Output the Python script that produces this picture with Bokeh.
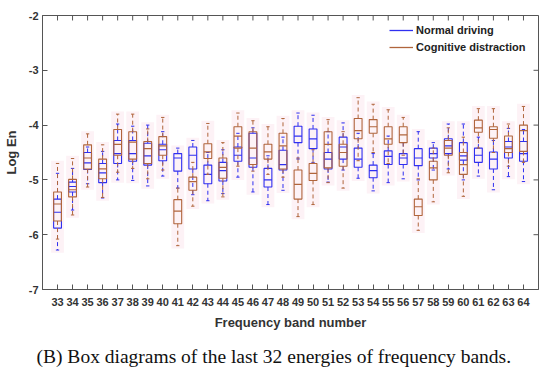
from bokeh.plotting import figure
from bokeh.models import (Range1d, FixedTicker, Legend, LegendItem,
                          Title, ColumnDataSource)
from bokeh.embed import file_html
from bokeh.resources import INLINE

# ---------------- data ----------------
bands = list(range(33, 65))
tick_labels = [str(b) for b in bands]
y_ticks = [-2, -3, -4, -5, -6, -7]
y_tick_labels = ["-2", "-3", "-4", "-5", "-6", "-7"]

# Normal driving: upper whisker, Q3, median, Q1, lower whisker
normal_top = [-4.88, -4.79, -4.40, -4.48, -3.98, -4.02, -4.00, -4.12, -4.42, -4.28, -4.50, -4.45, -4.15, -4.05, -4.56, -4.22,
              -3.78, -3.82, -4.12, -3.96, -4.15, -4.52, -4.20, -4.32, -4.12, -4.32, -3.98, -3.98, -4.22, -4.28, -4.06, -4.08]
normal_q3 = [-5.35, -5.04, -4.50, -4.70, -4.28, -4.28, -4.33, -4.35, -4.52, -4.40, -4.73, -4.68, -4.40, -4.15, -4.79, -4.46,
             -4.02, -4.07, -4.50, -4.22, -4.42, -4.73, -4.47, -4.52, -4.43, -4.42, -4.25, -4.32, -4.42, -4.49, -4.30, -4.30]
normal_med = [-5.59, -5.12, -4.69, -4.87, -4.52, -4.52, -4.56, -4.45, -4.60, -4.55, -4.90, -4.83, -4.55, -4.60, -5.00, -4.72,
              -4.20, -4.25, -4.62, -4.40, -4.62, -4.83, -4.57, -4.60, -4.60, -4.52, -4.38, -4.56, -4.55, -4.62, -4.40, -4.52]
normal_q1 = [-5.88, -5.22, -4.81, -5.05, -4.70, -4.66, -4.73, -4.65, -4.84, -4.80, -5.07, -5.02, -4.66, -4.77, -5.13, -4.82,
             -4.32, -4.43, -4.80, -4.62, -4.77, -4.96, -4.72, -4.72, -4.74, -4.60, -4.52, -4.64, -4.68, -4.80, -4.60, -4.66]
normal_bot = [-6.28, -5.55, -5.07, -5.33, -5.00, -5.01, -5.11, -4.93, -5.15, -5.27, -5.38, -5.25, -4.95, -5.22, -5.45, -5.19,
              -4.62, -4.68, -5.04, -4.82, -4.97, -5.20, -5.05, -4.98, -5.00, -4.82, -4.80, -5.00, -4.93, -5.18, -4.94, -5.03]

# Cognitive distraction
cog_top = [-4.70, -4.61, -4.16, -4.36, -3.80, -3.80, -4.07, -3.86, -5.15, -4.68, -3.97, -4.32, -3.78, -3.92, -4.03, -3.88,
           -4.60, -4.45, -3.90, -4.12, -3.50, -3.62, -3.72, -3.86, -4.98, -4.42, -4.05, -4.22, -3.70, -3.70, -3.98, -3.66]
cog_q3 = [-5.22, -4.99, -4.36, -4.62, -4.08, -4.12, -4.30, -4.21, -5.36, -4.95, -4.34, -4.60, -4.03, -4.12, -4.35, -4.15,
          -4.82, -4.70, -4.12, -4.35, -3.88, -3.90, -4.03, -4.03, -5.35, -4.66, -4.28, -4.50, -3.91, -4.03, -4.20, -4.00]
cog_med = [-5.44, -5.18, -4.60, -4.80, -4.35, -4.31, -4.43, -4.38, -5.57, -5.03, -4.49, -4.77, -4.20, -4.42, -4.49, -4.38,
           -5.08, -4.88, -4.35, -4.50, -4.10, -4.03, -4.25, -4.18, -5.49, -4.78, -4.42, -4.72, -4.05, -4.08, -4.43, -4.10]
cog_q1 = [-5.75, -5.31, -4.80, -4.98, -4.55, -4.62, -4.70, -4.55, -5.80, -5.19, -4.61, -4.97, -4.42, -4.72, -4.62, -4.80,
          -5.35, -5.01, -4.78, -4.75, -4.25, -4.15, -4.35, -4.32, -5.65, -5.00, -4.55, -4.90, -4.13, -4.24, -4.50, -4.48]
cog_bot = [-6.08, -5.64, -5.13, -5.32, -4.86, -4.79, -4.98, -4.82, -6.20, -5.48, -4.90, -5.31, -4.75, -4.84, -4.90, -4.95,
           -5.67, -5.45, -5.05, -5.15, -4.65, -4.50, -4.70, -4.55, -5.92, -5.40, -4.87, -5.30, -4.42, -4.50, -4.75, -4.68]

series_names = ["Normal driving", "Cognitive distraction"]
series_colors = ["#2f2ff0", "#b0653c"]

X_MIN, X_MAX, Y_MIN, Y_MAX = 32, 65, -7, -2

# ---------------- figure ----------------
FONT = "Liberation Sans"
p = figure(width=548, height=378, output_backend="svg", toolbar_location=None,
           x_range=Range1d(X_MIN, X_MAX), y_range=Range1d(Y_MIN, Y_MAX),
           min_border_left=39, min_border_right=10, min_border_top=15,
           min_border_bottom=88, background_fill_color="white",
           border_fill_color="white")
p.outline_line_color = "#555555"
p.outline_line_width = 1
p.xgrid.visible = False
p.ygrid.visible = False

# faint pink halo (as in the reference)
halo_lo = [min(a, b) for a, b in zip(normal_bot, cog_bot)]
halo_hi = [max(a, b) for a, b in zip(normal_top, cog_top)]
p.vbar(x=bands, width=0.85, bottom=[v - 0.05 for v in halo_lo], top=[v + 0.05 for v in halo_hi],
       fill_color="#fdf2f6", line_color=None)

box_w = 0.52
cap_w = 0.22
renderers = []
for name, col, top, q3, med, q1, bot in [
        (series_names[0], series_colors[0], normal_top, normal_q3, normal_med, normal_q1, normal_bot),
        (series_names[1], series_colors[1], cog_top, cog_q3, cog_med, cog_q1, cog_bot)]:
    src = ColumnDataSource(dict(x=bands, top=top, q3=q3, med=med, q1=q1, bot=bot,
                                xl=[b - box_w / 2 for b in bands], xr=[b + box_w / 2 for b in bands],
                                cl=[b - cap_w / 2 for b in bands], cr=[b + cap_w / 2 for b in bands]))
    p.segment(x0="x", y0="q3", x1="x", y1="top", source=src, line_color=col,
              line_dash="4 3", line_width=1)
    p.segment(x0="x", y0="q1", x1="x", y1="bot", source=src, line_color=col,
              line_dash="4 3", line_width=1)
    p.segment(x0="cl", y0="top", x1="cr", y1="top", source=src, line_color=col, line_width=1)
    p.segment(x0="cl", y0="bot", x1="cr", y1="bot", source=src, line_color=col, line_width=1)
    p.vbar(x="x", width=box_w, bottom="q1", top="q3", source=src, fill_alpha=0,
           line_color=col, line_width=1.1)
    p.segment(x0="xl", y0="med", x1="xr", y1="med", source=src, line_color=col, line_width=1.2)
    r = p.line(x=[bands[0], bands[0]], y=[-10, -10], line_color=col, line_width=1.3)
    renderers.append((name, r))

# inward ticks on the top and right edges (mirroring the box-style frame)
tick_len_y = 5 / 55.0   # 5 px in data units
tick_len_x = 5 / 15.12
p.segment(x0=bands, y0=[Y_MAX] * len(bands), x1=bands, y1=[Y_MAX - tick_len_y] * len(bands),
          line_color="#555555", line_width=1)
p.segment(x0=[X_MAX] * len(y_ticks), y0=y_ticks, x1=[X_MAX - tick_len_x] * len(y_ticks), y1=y_ticks,
          line_color="#555555", line_width=1)

# axes
for ax in [p.xaxis[0], p.yaxis[0]]:
    ax.major_tick_in = 5
    ax.major_tick_out = 0
    ax.minor_tick_in = 0
    ax.minor_tick_out = 0
    ax.axis_line_color = "#555555"
    ax.major_tick_line_color = "#555555"
    ax.major_label_text_font = FONT
    ax.major_label_text_font_style = "bold"
    ax.major_label_text_font_size = "11px"
    ax.major_label_text_color = "#333333"
    ax.axis_label_text_font = FONT
    ax.axis_label_text_font_style = "bold"
    ax.axis_label_text_font_size = "13px"
    ax.axis_label_text_color = "#333333"
p.xaxis[0].ticker = FixedTicker(ticks=bands)
p.xaxis[0].major_label_overrides = {b: s for b, s in zip(bands, tick_labels)}
p.xaxis[0].major_label_standoff = 8
p.xaxis[0].axis_label = "Frequency band number"
p.xaxis[0].axis_label_standoff = 6
p.yaxis[0].ticker = FixedTicker(ticks=y_ticks)
p.yaxis[0].major_label_overrides = {t: s for t, s in zip(y_ticks, y_tick_labels)}
p.yaxis[0].major_label_standoff = 4
p.yaxis[0].axis_label = "Log En"
p.yaxis[0].axis_label_standoff = 7

# legend
legend = Legend(items=[LegendItem(label=n, renderers=[r]) for n, r in renderers],
                location=(347, 235), border_line_color=None, background_fill_alpha=0,
                label_text_font=FONT, label_text_font_style="bold", label_text_font_size="11px",
                label_text_color="#222222", glyph_width=24, glyph_height=14, label_height=14,
                spacing=3, padding=0, margin=0, label_standoff=3)
p.add_layout(legend)

# caption
cap = Title(text="(B) Box diagrams of the last 32 energies of frequency bands.",
            text_font="Liberation Serif", text_font_size="19.5px", text_font_style="normal",
            text_color="#111111", align="left", offset=-6, standoff=23)
p.add_layout(cap, "below")

open("out.html", "w").write(file_html(p, INLINE))
